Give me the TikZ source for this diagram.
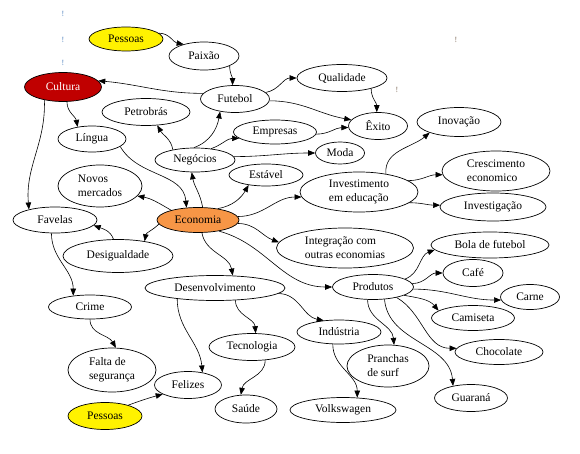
\documentclass[tikz,border=0pt]{standalone}
\usepackage{fontspec}
\setmainfont{Liberation Serif}
\usetikzlibrary{shapes.geometric,arrows.meta}
\definecolor{culred}{HTML}{C00000}
\definecolor{ecoorange}{HTML}{F79646}
\definecolor{bangblue}{HTML}{4F81BD}
\definecolor{banggray}{HTML}{7F6A5A}
\begin{document}
\begin{tikzpicture}[x=1pt,y=-1pt,
  el/.style={ellipse,draw,line width=0.7pt,inner sep=0pt,align=left,font=\fontsize{11.5}{14}\selectfont},
  arr/.style={-{Triangle[length=7pt,width=5.5pt]},line width=0.6pt},
  bang/.style={font=\fontsize{8}{9}\selectfont,inner sep=0pt}]
\useasboundingbox (0,0) rectangle (580,454);
% stray marks
\node[bang,text=bangblue] (b1) at (63,14) {!};
\node[bang,text=bangblue] (b2) at (63,40) {!};
\node[bang,text=bangblue] (b3) at (63,63) {!};
\node[bang,text=banggray] (b4) at (456,40) {!};
\node[bang,text=banggray] (b5) at (397,90) {!};
% nodes
\node[el,fill=yellow,minimum width=74pt,minimum height=24pt] (pt) at (126,39) {Pessoas};
\node[el,minimum width=70pt,minimum height=28pt] (pa) at (204,56) {Paixão};
\node[el,fill=culred,text=white,minimum width=77pt,minimum height=29pt] (cu) at (63,87) {Cultura};
\node[el,minimum width=69pt,minimum height=27pt] (fu) at (235,99) {Futebol};
\node[el,minimum width=88pt,minimum height=27pt] (pe) at (146,112) {Petrobrás};
\node[el,minimum width=68pt,minimum height=26pt] (li) at (92,139) {Língua};
\node[el,minimum width=90pt,minimum height=27pt] (qu) at (342,78) {Qualidade};
\node[el,minimum width=59pt,minimum height=27pt] (ex) at (378,126) {Êxito};
\node[el,minimum width=84pt,minimum height=29pt] (iv) at (459,122) {Inovação};
\node[el,minimum width=83pt,minimum height=24pt] (em) at (275,132) {Empresas};
\node[el,minimum width=80pt,minimum height=24pt] (ne) at (195,160) {Negócios};
\node[el,minimum width=49pt,minimum height=22pt] (mo) at (340,153) {Moda};
\node[el,minimum width=74pt,minimum height=22pt] (es) at (266,175) {Estável};
\node[el,minimum width=118pt,minimum height=40pt] (ie) at (359,192) {Investimento\\em educação};
\node[el,minimum width=84pt,minimum height=42pt] (nm) at (100,186) {Novos\\mercados};
\node[el,fill=ecoorange,minimum width=82pt,minimum height=25pt] (ec) at (198,220) {Economia};
\node[el,minimum width=84pt,minimum height=26pt] (fa) at (55,220) {Favelas};
\node[el,minimum width=110pt,minimum height=33pt] (dg) at (118,256) {Desigualdade};
\node[el,minimum width=108pt,minimum height=40pt] (cc) at (496,171) {Crescimento\\economico};
\node[el,minimum width=106pt,minimum height=28pt] (ig) at (493,207) {Investigação};
\node[el,minimum width=137pt,minimum height=40pt] (it) at (345,248) {Integração com\\outras economias};
\node[el,minimum width=118pt,minimum height=26pt] (bf) at (490,245) {Bola de futebol};
\node[el,minimum width=60pt,minimum height=27pt] (cf) at (473,273) {Café};
\node[el,minimum width=81pt,minimum height=25pt] (pr) at (373,287) {Produtos};
\node[el,minimum width=59pt,minimum height=25pt] (ca) at (530,297) {Carne};
\node[el,minimum width=83pt,minimum height=25pt] (cm) at (473,318) {Camiseta};
\node[el,minimum width=88pt,minimum height=25pt] (ch) at (499,352) {Chocolate};
\node[el,minimum width=140pt,minimum height=25pt] (de) at (215,288) {Desenvolvimento};
\node[el,minimum width=83pt,minimum height=24pt] (cr) at (90,307) {Crime};
\node[el,minimum width=84pt,minimum height=24pt] (ind) at (339,332) {Indústria};
\node[el,minimum width=86pt,minimum height=27pt] (tc) at (252,347) {Tecnologia};
\node[el,minimum width=82pt,minimum height=42pt] (ps) at (388,366) {Pranchas\\de surf};
\node[el,minimum width=88pt,minimum height=44pt] (fs) at (112,370) {Falta de\\segurança};
\node[el,minimum width=67pt,minimum height=27pt] (fz) at (188,385) {Felizes};
\node[el,minimum width=62pt,minimum height=28pt] (sa) at (246,409) {Saúde};
\node[el,fill=yellow,minimum width=74pt,minimum height=27pt] (pb) at (105,416) {Pessoas};
\node[el,minimum width=106pt,minimum height=25pt] (vw) at (343,410) {Volkswagen};
\node[el,minimum width=73pt,minimum height=27pt] (gu) at (471,398) {Guaraná};
% edges
\draw[arr] (pt.10) to[out=0,in=170] (pa.150);
\draw[arr] (pa.-21) to[out=-90,in=90] (fu.100);
\draw[arr] (fu.170) to[out=180,in=-5] (cu.10);
\draw[arr] (fu.12) to[out=10,in=180] (qu.180);
\draw[arr] (fu.-3) to[out=0,in=170] (ex.167);
\draw[arr] (qu.-20) to[out=-90,in=90] (ex.95);
\draw[arr] (em.-3) to[out=0,in=180] (ex.183);
\draw[arr] (ne.95) to[out=20,in=-100] (fu.-140);
\draw[arr] (ne.155) to[out=100,in=-60] (pe.-50);
\draw[arr] (ne.35) to[out=20,in=180] (em.190);
\draw[arr] (ne.5) to[out=0,in=180] (mo.180);
\draw[arr] (cu.-75) to[out=-90,in=100] (li.140);
\draw[arr] (cu.-145) to[out=-88,in=95] (fa.158);
\draw[arr] (li.-15) to[out=-60,in=95] (ec.133);
\draw[arr] (ec.70) to[out=100,in=-80] (ne.-105);
\draw[arr] (ec.30) to[out=10,in=-120] (es.-150);
\draw[arr] (ec.160) to[out=150,in=-10] (nm.-15);
\draw[arr] (ec.5) to[out=0,in=180] (ie.185);
\draw[arr] (ec.-5) to[out=0,in=160] (it.175);
\draw[arr] (ec.-28) to[out=-15,in=180] (pr.180);
\draw[arr] (ec.-73) to[out=-80,in=100] (de.35);
\draw[arr] (ec.186) to[out=225,in=80] (dg.29);
\draw[arr] (dg.105) to[out=110,in=-20] (fa.-8);
\draw[arr] (fa.-105) to[out=-90,in=90] (cr.146);
\draw[arr] (cr.-90) to[out=-90,in=120] (fs.80);
\draw[arr] (pb.25) to[out=20,in=195] (fz.200);
\draw[arr] (de.-164) to[out=-90,in=95] (fz.41);
\draw[arr] (de.-31) to[out=-90,in=95] (tc.75);
\draw[arr] (de.-5) to[out=0,in=170] (ind.143);
\draw[arr] (tc.-45) to[out=-90,in=80] (sa.110);
\draw[arr] (ind.-117) to[out=-90,in=90] (vw.41);
\draw[arr] (pr.14) to[out=20,in=200] (bf.185);
\draw[arr] (pr.5) to[out=0,in=180] (cf.180);
\draw[arr] (pr.-3) to[out=0,in=180] (ca.186);
\draw[arr] (pr.-15) to[out=-10,in=130] (cm.168);
\draw[arr] (pr.-24) to[out=-30,in=180] (ch.175);
\draw[arr] (pr.-113) to[out=-90,in=95] (ps.74);
\draw[arr] (pr.-47) to[out=-85,in=95] (gu.146);
\draw[arr] (ie.34) to[out=95,in=-140] (iv.-160);
\draw[arr] (ie.13) to[out=0,in=180] (cc.184);
\draw[arr] (ie.-12) to[out=0,in=180] (ig.178);
\end{tikzpicture}
\end{document}
